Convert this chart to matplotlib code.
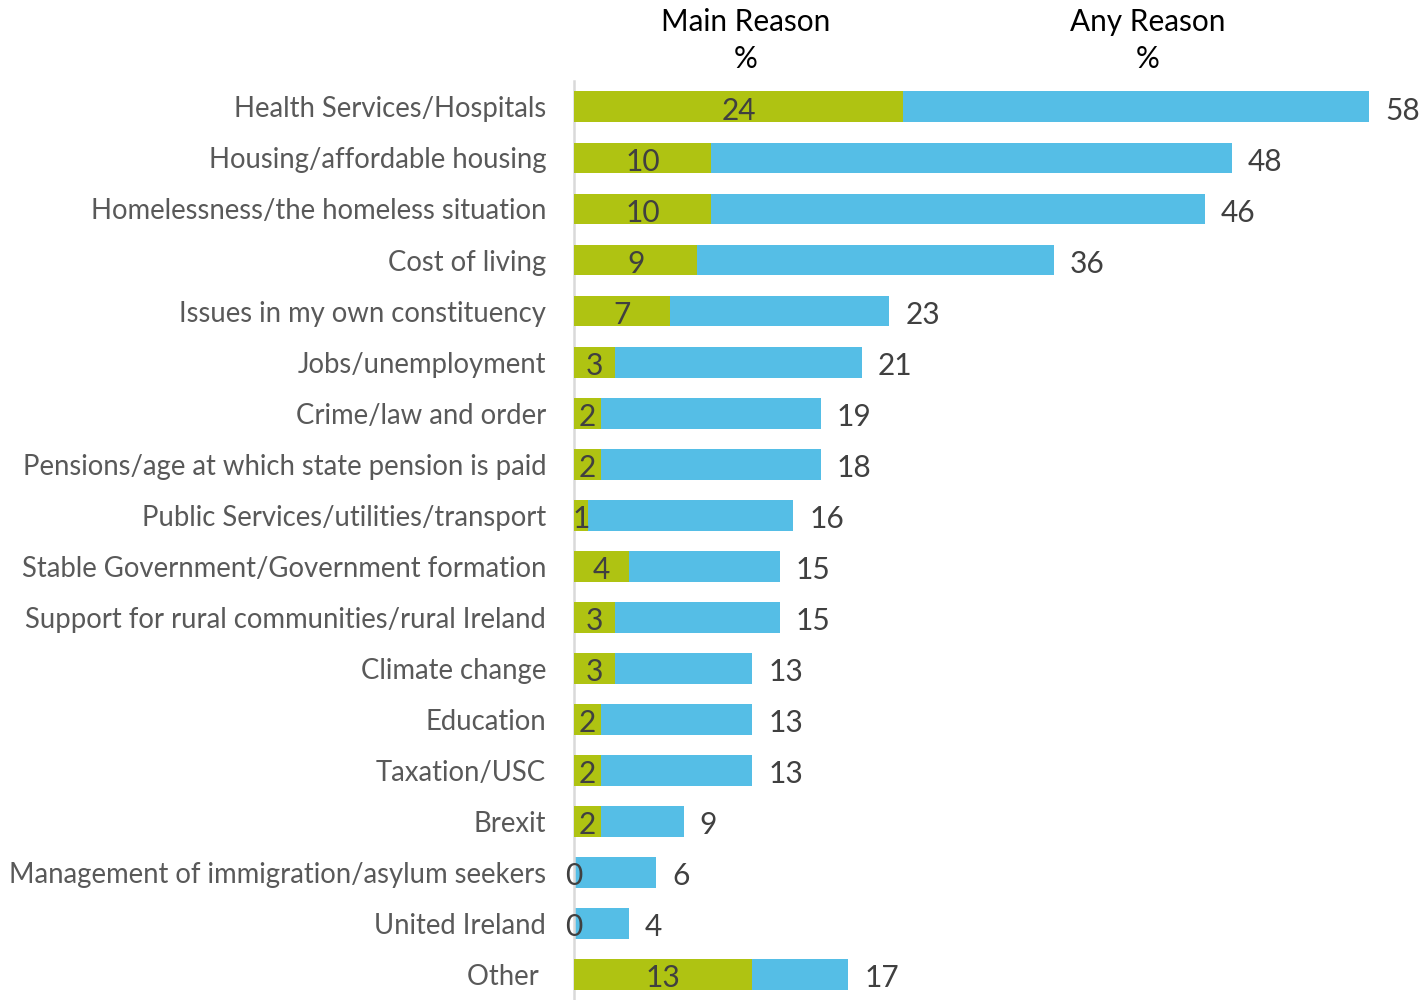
import matplotlib
matplotlib.use("Agg")
import matplotlib.pyplot as plt

categories = [
    "Health Services/Hospitals",
    "Housing/affordable housing",
    "Homelessness/the homeless situation",
    "Cost of living",
    "Issues in my own constituency",
    "Jobs/unemployment",
    "Crime/law and order",
    "Pensions/age at which state pension is paid",
    "Public Services/utilities/transport",
    "Stable Government/Government formation",
    "Support for rural communities/rural Ireland",
    "Climate change",
    "Education",
    "Taxation/USC",
    "Brexit",
    "Management of immigration/asylum seekers",
    "United Ireland",
    "Other ",
]
# bar lengths as drawn in the picture
main_reason = [24, 10, 10, 9, 7, 3, 2, 2, 1, 4, 3, 3, 2, 2, 2, 0, 0, 13]
any_reason = [58, 48, 46, 35, 23, 21, 18, 18, 16, 15, 15, 13, 13, 13, 8, 6, 4, 20]
# value labels as printed
main_labels = ["24", "10", "10", "9", "7", "3", "2", "2", "1", "4", "3", "3", "2", "2", "2", "0", "0", "13"]
any_labels = ["58", "48", "46", "36", "23", "21", "19", "18", "16", "15", "15", "13", "13", "13", "9", "6", "4", "17"]

GREEN = "#AFC312"
BLUE = "#55BEE6"
FONT = ["Lato", "DejaVu Sans"]

plt.rcParams["font.family"] = FONT

fig = plt.figure(figsize=(14.2, 10), dpi=100)
ax = fig.add_axes([574 / 1420, 0.0, (1396.4 - 574) / 1420, 0.9186])

ypos = list(range(len(categories)))
h = 0.605
ax.barh(ypos, any_reason, height=h, color=BLUE, zorder=2)
ax.barh(ypos, main_reason, height=h, color=GREEN, zorder=3)

vfs = 21.5
lfs = 19.8
for y, m, a, ml, al in zip(ypos, main_reason, any_reason, main_labels, any_labels):
    ax.annotate(al, xy=(a, y), xytext=(16, -4), textcoords="offset pixels",
                ha="left", va="center", fontsize=vfs, color="#404040")
    ax.annotate(ml, xy=(m / 2, y), xytext=(0, -4), textcoords="offset pixels",
                ha="center", va="center", fontsize=vfs, color="#404040", zorder=4)

ax.set_xlim(0, 60)
ax.set_ylim(len(categories) - 0.5, -0.5)
ax.set_yticks(ypos)
ax.set_yticklabels(categories, fontsize=lfs, color="#595959")
ax.tick_params(axis="y", length=0, pad=20)
ax.set_xticks([])
for s in ["top", "right", "bottom"]:
    ax.spines[s].set_visible(False)
ax.spines["left"].set_color("#D9D9D9")
ax.spines["left"].set_linewidth(1.8)

hfs = 21.4
fig.text(746 / 1420, 1 - 22 / 1000, "Main Reason", ha="center", va="center",
         fontsize=hfs, color="#000000")
fig.text(746 / 1420, 1 - 59 / 1000, "%", ha="center", va="center",
         fontsize=hfs, color="#000000")
fig.text(1148 / 1420, 1 - 22 / 1000, "Any Reason", ha="center", va="center",
         fontsize=hfs, color="#000000")
fig.text(1148 / 1420, 1 - 59 / 1000, "%", ha="center", va="center",
         fontsize=hfs, color="#000000")

fig.savefig("out.png", dpi=100)
